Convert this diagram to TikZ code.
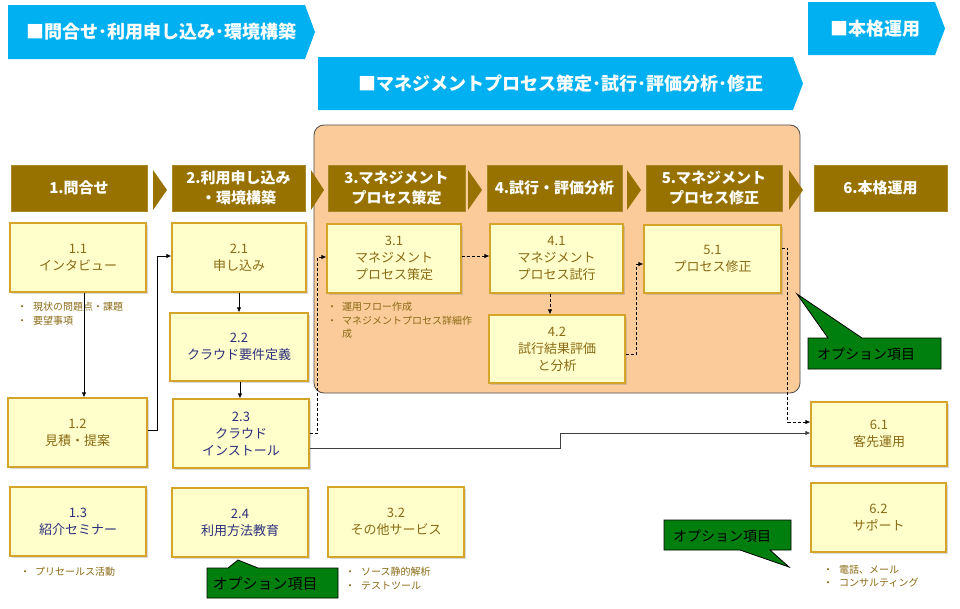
\documentclass[tikz,border=0pt]{standalone}
\usepackage{fontspec}
\setmainfont{Noto Sans CJK JP}
\usetikzlibrary{arrows.meta,shadows,calc}
\definecolor{bannerblue}{HTML}{00B0F0}
\definecolor{hdrbrown}{HTML}{977200}
\definecolor{panelorange}{HTML}{FBCB9A}
\definecolor{boxfill}{HTML}{FFFFCC}
\definecolor{boxedge}{HTML}{D4A52A}
\definecolor{txtbrown}{HTML}{8A6A14}
\definecolor{txtnavy}{HTML}{2C2F7C}
\definecolor{optgreen}{HTML}{007F0E}
\begin{document}
\begin{tikzpicture}[x=1pt,y=-1pt,
  ybox/.style={draw=boxedge, line width=1.2pt, fill=boxfill, minimum width=136pt, minimum height=69pt, align=center, inner sep=2pt, text=txtbrown, font=\fontsize{13}{17}\selectfont, drop shadow={opacity=0.3, shadow xshift=1.5pt, shadow yshift=-1.5pt}},
  navy/.style={text=txtnavy},
  hdr/.style={fill=hdrbrown, draw=hdrbrown!85!white, line width=0.6pt, minimum width=136pt, minimum height=46pt, align=center, text=white, font=\bfseries\fontsize{15}{20}\selectfont},
  chev/.style={fill=hdrbrown},
  banner/.style={fill=bannerblue},
  btext/.style={text=white, inner sep=0pt, font=\bfseries\fontsize{18}{22}\selectfont},
  note/.style={anchor=north west, inner sep=0pt, align=left, text=txtbrown, font=\fontsize{10}{13.5}\selectfont},
  opt/.style={fill=optgreen, draw=black, line width=0.8pt},
  opttext/.style={inner sep=0pt, font=\fontsize{14}{16}\selectfont, text=black},
  flow/.style={draw=black, line width=0.8pt, -{Latex[length=5pt,width=4.5pt]}},
  dflow/.style={flow, dash pattern=on 3pt off 2pt},
]
\useasboundingbox (0,0) rectangle (960,608);
\fill[white] (0,0) rectangle (960,608);

% blue banners
\fill[banner] (8,5) -- (305,5) -- (315,32) -- (305,59) -- (8,59) -- cycle;
\node[btext] (bn1) at (161,32) {■問合せ･利用申し込み･環境構築};
\fill[banner] (318,57) -- (793,57) -- (803,83.5) -- (793,110) -- (318,110) -- cycle;
\node[btext] (bn2) at (561,84) {■マネジメントプロセス策定･試行･評価分析･修正};
\fill[banner] (808,2) -- (935,2) -- (945,28.5) -- (935,55) -- (808,55) -- cycle;
\node[btext] (bn3) at (875,29) {■本格運用};

% orange panel
\draw[fill=panelorange, draw=black!70, line width=0.8pt, rounded corners=10pt] (314,125) rectangle (800,393);

% phase headers
\node[hdr] (h1) at (79,188) {1.問合せ};
\node[hdr, minimum width=133pt] (h2) at (238.5,188) {2.利用申し込み\\・環境構築};
\node[hdr, minimum width=137pt] (h3) at (396.5,188) {3.マネジメント\\プロセス策定};
\node[hdr, minimum width=135pt] (h4) at (554.5,188) {4.試行・評価分析};
\node[hdr] (h5) at (714,188) {5.マネジメント\\プロセス修正};
\node[hdr, minimum width=133pt] (h6) at (880.5,188) {6.本格運用};
\fill[chev] (153,170) -- (167,190) -- (153,210) -- cycle;
\fill[chev] (311,170) -- (324,190) -- (311,210) -- cycle;
\fill[chev] (468,170) -- (482,190) -- (468,210) -- cycle;
\fill[chev] (627,170) -- (641,190) -- (627,210) -- cycle;
\fill[chev] (789,170) -- (803,190) -- (789,210) -- cycle;

% boxes
\node[ybox] (b11) at (78,257.5) {1.1\\インタビュー};
\node[ybox, minimum width=139pt] (b12) at (77.5,432.5) {1.2\\見積・提案};
\node[ybox, navy] (b13) at (78,521.5) {1.3\\紹介セミナー};
\node[ybox, minimum width=134pt] (b21) at (239,257.5) {2.1\\申し込み};
\node[ybox, navy, minimum width=138pt, minimum height=68pt] (b22) at (239,347) {2.2\\クラウド要件定義};
\node[ybox, navy] (b23) at (241,433.5) {2.3\\クラウド\\インストール};
\node[ybox, navy] (b24) at (240,522.5) {2.4\\利用方法教育};
\node[ybox, minimum width=134pt] (b31) at (394,258.5) {3.1\\マネジメント\\プロセス策定};
\node[ybox, minimum height=70pt] (b32) at (396,522) {3.2\\その他サービス};
\node[ybox, minimum width=133pt] (b41) at (556.5,258.5) {4.1\\マネジメント\\プロセス試行};
\node[ybox, minimum height=68pt] (b42) at (557,349) {4.2\\試行結果評価\\と分析};
\node[ybox, minimum width=137pt, minimum height=68pt] (b51) at (712.5,259) {5.1\\プロセス修正};
\node[ybox, minimum height=64pt] (b61) at (879,434) {6.1\\客先運用};
\node[ybox, minimum width=135pt] (b62) at (878.5,517.5) {6.2\\サポート};

% notes
\node[note] (n11) at (17,302) {・\hspace{6pt}現状の問題点・課題\\・\hspace{6pt}要望事項};
\node[note] (n31) at (327,302) {・\hspace{5pt}運用フロー作成\\・\hspace{5pt}マネジメントプロセス詳細作\\\hspace{15pt}成};
\node[note] (n13) at (20,567) {・\hspace{5pt}プリセールス活動};
\node[note] (n32) at (345,567) {・\hspace{6pt}ソース静的解析\\・\hspace{6pt}テストツール};
\node[note] (n62) at (823,565) {・\hspace{6pt}電話、メール\\・\hspace{6pt}コンサルティング};

% option callouts
\draw[opt] (808,338) -- (828,338) -- (797,294) -- (862,338) -- (941,338) -- (941,369) -- (808,369) -- cycle;
\node[opttext] (o1) at (866,354) {オプション項目};
\draw[opt] (207,568) -- (228,568) -- (238,560) -- (258,568) -- (338,568) -- (338,598) -- (207,598) -- cycle;
\node[opttext, font=\fontsize{15}{17}\selectfont] (o2) at (265,584) {オプション項目};
\draw[opt] (664,520) -- (791,520) -- (791,550) -- (770,550) -- (789,567) -- (740,550) -- (664,550) -- cycle;
\node[opttext] (o3) at (722,536) {オプション項目};

% connectors
\draw[flow] ([xshift=6pt]b11.south) -- ([xshift=6pt]b11.south |- b12.north);
\draw[flow] ([yshift=2pt]b12.east) -- ++(10,0) |- ([yshift=1.5pt]b21.west);
\draw[flow] (b21.south) -- (b21.south |- b22.north);
\draw[flow] ([xshift=1pt]b22.south) -- ([xshift=1pt]b22.south |- b23.north);
\draw[dflow] ([yshift=0.5pt]b23.east) -- ++(8,0) |- ([yshift=1.5pt]b31.west);
\draw[flow, draw=black!75] ([yshift=-14.5pt]b23.east) -- ++(251,0) |- ([yshift=1pt]b61.west);
\draw[dflow] ([yshift=2.5pt]b31.east) -- ([yshift=2.5pt]b41.west);
\draw[dflow] ([xshift=-6.5pt]b41.south) -- ([xshift=-6.5pt]b41.south |- b42.north);
\draw[dflow] ([yshift=-5pt]b42.east) -- ++(11,0) |- ([yshift=-5pt]b51.west);
\draw[dflow] ([yshift=11pt]b51.east) -- ++(6,0) |- ([yshift=12pt]b61.west);
\end{tikzpicture}
\end{document}
